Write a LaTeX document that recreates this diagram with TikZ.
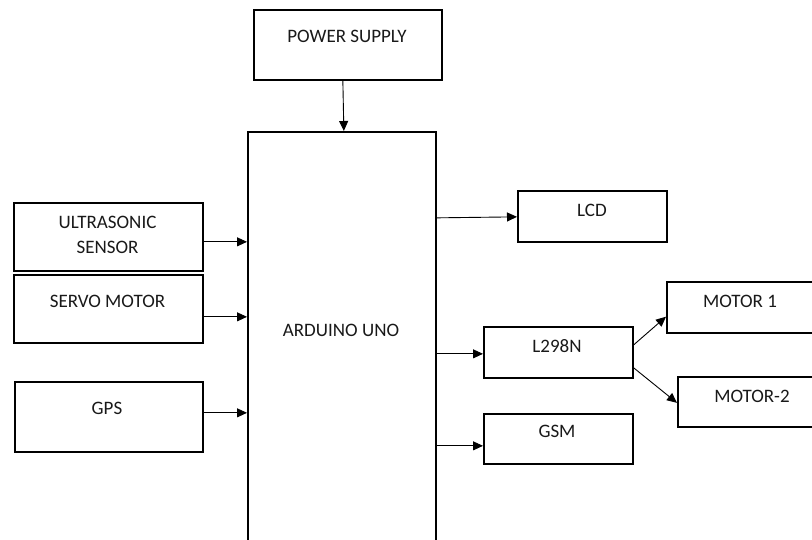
\documentclass[tikz,border=0pt]{standalone}
\usepackage{fontspec}
\setmainfont{Carlito}
\usetikzlibrary{arrows.meta}
\begin{document}
\begin{tikzpicture}[x=1pt,y=-1pt,
  blk/.style={draw, line width=1.7pt, rectangle, anchor=north west, inner sep=0pt, fill=white},
  lbl/.style={font=\fontsize{19}{23}\selectfont, inner sep=0pt, align=center, text=black!90},
  arr/.style={line width=0.9pt, -{Triangle[length=10pt,width=9pt]}}]
\useasboundingbox (0,0) rectangle (812,540);
\clip (0,0) rectangle (812,540);
% boxes
\node[blk, minimum width=188pt, minimum height=70pt] (ps) at (253,9) {};
\node[blk, minimum width=188pt, minimum height=440pt] (ard) at (247,131) {};
\node[blk, minimum width=189pt, minimum height=68pt] (us) at (13,202) {};
\node[blk, minimum width=189pt, minimum height=68pt] (sm) at (13,274) {};
\node[blk, minimum width=188pt, minimum height=70pt] (gps) at (14,381) {};
\node[blk, minimum width=149pt, minimum height=51pt] (lcd) at (517,190) {};
\node[blk, minimum width=149pt, minimum height=51pt] (l298) at (483,326) {};
\node[blk, minimum width=149pt, minimum height=50pt] (gsm) at (483,413) {};
\node[blk, minimum width=148pt, minimum height=51pt] (m1) at (666,281) {};
\node[blk, minimum width=151pt, minimum height=50pt] (m2) at (677,376) {};
% labels
\node[lbl] (psT) at (347,36) {POWER SUPPLY};
\node[lbl] (ardT) at (341,330) {ARDUINO UNO};
\node[lbl] (usT) at (107.5,235) {ULTRASONIC\\[2pt]SENSOR};
\node[lbl] (smT) at (107.5,301) {SERVO MOTOR};
\node[lbl] (gpsT) at (107,408) {GPS};
\node[lbl] (lcdT) at (592,210) {LCD};
\node[lbl] (l298T) at (557,346) {L298N};
\node[lbl] (gsmT) at (557,431) {GSM};
\node[lbl] (m1T) at (740,301) {MOTOR 1};
\node[lbl] (m2T) at (752,396) {MOTOR-2};
% connectors
\coordinate (c1) at ([xshift=-5pt]ps.south);
\coordinate (c1e) at ([xshift=2pt]ard.north);
\draw[arr] (c1) -- (c1e);
\coordinate (c2) at ([yshift=-5pt]us.east);
\draw[arr] (c2) -- (c2 -| ard.west);
\coordinate (c3) at ([yshift=-8pt]sm.east);
\draw[arr] (c3) -- (c3 -| ard.west);
\coordinate (c4) at ([yshift=4pt]gps.east);
\draw[arr] (c4) -- (c4 -| ard.west);
\coordinate (c5) at ([yshift=-1.5pt]lcd.west);
\draw[arr] (c5 -| ard.east) -- ([yshift=-0.5pt]lcd.west);
\coordinate (c6) at ([yshift=-1.5pt]l298.west);
\draw[arr] (c6 -| ard.east) -- (c6);
\coordinate (c7) at ([yshift=-7pt]gsm.west);
\draw[arr] (c7 -| ard.east) -- (c7);
\draw[arr] ([yshift=7.5pt]l298.east) -- ([yshift=17pt]m1.south west);
\draw[arr] ([yshift=-15.5pt]l298.east) -- ([yshift=-1pt]m2.west);
\end{tikzpicture}
\end{document}
